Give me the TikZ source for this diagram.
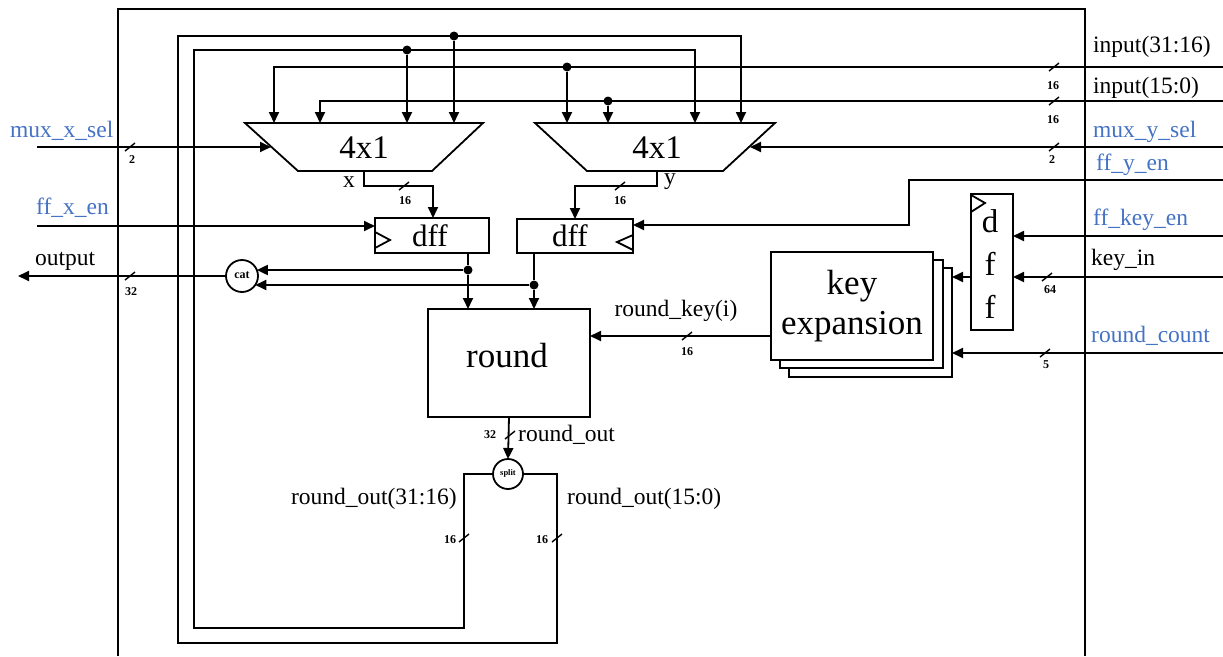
\documentclass[tikz,border=0pt]{standalone}
\usepackage{fontspec}
\setmainfont{Liberation Serif}
\usetikzlibrary{arrows.meta}
\definecolor{sigblue}{HTML}{4472C4}
\tikzset{
 w/.style={line width=1.8pt},
 arr/.style={w,-{Triangle[length=11pt,width=10pt]}},
 dot/.style={circle,fill,inner sep=0pt,minimum size=9pt},
 lbl/.style={font=\fontsize{23.5}{26}\selectfont, inner sep=0pt},
 bl/.style={lbl,text=sigblue},
 big/.style={font=\fontsize{33}{40}\selectfont, inner sep=0pt},
 bw/.style={font=\bfseries\fontsize{12}{13}\selectfont, inner sep=0pt},
 blk/.style={draw,w,inner sep=0pt,outer sep=0pt},
 bus/.pic={\draw[line width=1.4pt] (-5,4) -- (5,-4);},
}
\begin{document}
\begin{tikzpicture}[x=1pt,y=-1pt]
\useasboundingbox (0,0) rectangle (1223,656);
% outer box
\draw[w] (118,656) -- (118,9) -- (1085,9) -- (1085,656);

% multiplexers
\draw[w] (245,123) -- (483,123) -- (432,171) -- (298,171) -- cycle;
\node[big] (mux1) at (364,148) {4x1};
\draw[w] (535,123) -- (775,123) -- (723,171) -- (587,171) -- cycle;
\node[big] (mux2) at (657,148) {4x1};
\coordinate (m1a) at (274,123);
\coordinate (m1b) at (320,123);
\coordinate (m1c) at (407,123);
\coordinate (m1d) at (454,123);
\coordinate (m2a) at (567,123);
\coordinate (m2b) at (608,123);
\coordinate (m2c) at (695,123);
\coordinate (m2d) at (741,123);
\coordinate (m1s) at (271,147);
\coordinate (m2s) at (750,147);
\coordinate (m1o) at (364,171);
\coordinate (m2o) at (657,171);

% flip-flops
\node[blk, minimum width=114pt, minimum height=35pt] (dffx) at (432,235.5) {};
\node[font=\fontsize{31}{36}\selectfont, inner sep=0pt] (dffxt) at (430,236) {dff};
\draw[w] (375,232) -- (390,240) -- (375,248);
\node[blk, minimum width=116pt, minimum height=34pt] (dffy) at (575,236) {};
\node[font=\fontsize{31}{36}\selectfont, inner sep=0pt] (dffyt) at (570,236) {dff};
\draw[w] (633,235) -- (617,242) -- (633,250);

% round
\node[blk, minimum width=162pt, minimum height=108pt] (round) at (509,363) {};
\node[font=\fontsize{35}{40}\selectfont, inner sep=0pt] (roundt) at (507,356) {round};

% key expansion stack
\node[blk, fill=white, minimum width=163pt, minimum height=109pt] (ke3) at (870.5,322.5) {};
\node[blk, fill=white, minimum width=163pt, minimum height=108pt] (ke2) at (861.5,314) {};
\node[blk, fill=white, minimum width=162pt, minimum height=108pt, align=center,
      font=\fontsize{35}{41}\selectfont] (ke) at (852,306) {key\\[-1pt]expansion};

% key dff
\node[blk, minimum width=42pt, minimum height=136pt] (dffk) at (992,262) {};
\node[big] (dk1) at (990,221) {d};
\node[big] (dk2) at (990,264) {f};
\node[big] (dk3) at (990,307) {f};
\draw[w] (971,195) -- (985,203) -- (971,212);

% cat and split
\node[blk, circle, minimum size=32pt, fill=white] (cat) at (242,276) {};
\node[font=\bfseries\fontsize{12}{13}\selectfont, inner sep=0pt] (catt) at (242,275) {cat};
\node[blk, circle, minimum size=30pt, fill=white] (split) at (508,474) {};
\node[font=\bfseries\fontsize{8.5}{9}\selectfont, inner sep=0pt] (splitt) at (508,473) {split};

% input buses
\coordinate (inA) at (1223,67);
\coordinate (inB) at (1223,101);
\draw[arr] (inA) -- (274,67) -- (m1a);
\node[dot] (dA) at (567,67) {};
\draw[arr] (dA) -- (m2a);
\draw[arr] (inB) -- (320,101) -- (m1b);
\node[dot] (dB) at (608,101) {};
\draw[arr] (dB) -- (m2b);
\pic at (1054,67) {bus};
\node[bw] (l16a) at (1053,86) {16};
\pic at (1054,101) {bus};
\node[bw] (l16b) at (1053,120) {16};
\node[lbl, anchor=west] (tinA) at (1093,47) {input(31:16)};
\node[lbl, anchor=west] (tinB) at (1093,88) {input(15:0)};

% feedback loops
\draw[arr] (split.east) -- (557,474) -- (557,643) -- (178,643) -- (178,36) -- (741,36) -- (m2d);
\node[dot] (dC) at (454,36) {};
\draw[arr] (dC) -- (m1d);
\draw[arr] (split.west) -- (464,474) -- (464,628) -- (194,628) -- (194,50) -- (695,50) -- (m2c);
\node[dot] (dD) at (407,50) {};
\draw[arr] (dD) -- (m1c);
\pic at (464,538) {bus};
\node[bw] (l16c) at (450,540) {16};
\pic at (557,538) {bus};
\node[bw] (l16d) at (542,540) {16};
\node[lbl, anchor=east] (tro1) at (457,499) {round\_out(31:16)};
\node[lbl, anchor=west] (tro2) at (567,499) {round\_out(15:0)};

% select lines
\coordinate (xsel) at (37,147);
\coordinate (ysel) at (1223,147);
\draw[arr] (xsel) -- (m1s);
\draw[arr] (ysel) -- (m2s);
\pic at (130,147) {bus};
\node[bw] (l2a) at (132,160) {2};
\pic at (1054,147) {bus};
\node[bw] (l2b) at (1052,160) {2};
\node[bl, anchor=west] (tmx) at (10,131) {mux\_x\_sel};
\node[bl, anchor=west] (tmy) at (1093,132) {mux\_y\_sel};

% mux outputs to dffs
\draw[arr] (m1o) -- (364,186) -- (433,186) -- (433,218);
\pic at (404,186) {bus};
\node[bw] (l16e) at (405,201) {16};
\node[lbl] (tx) at (349,182) {x};
\draw[arr] (m2o) -- (657,186) -- (575,186) -- (575,219);
\pic at (620,186) {bus};
\node[bw] (l16f) at (620,201) {16};
\node[lbl] (ty) at (670,182) {y};

% enables
\coordinate (fxen) at (37,226);
\draw[arr] (fxen) -- (dffx.west |- fxen);
\node[bl, anchor=west] (tfx) at (36,208) {ff\_x\_en};
\coordinate (fyen) at (1223,180);
\draw[arr] (fyen) -- (909,180) -- (909,225) -- (dffy.east |- 0,225);
\node[bl, anchor=west] (tfy) at (1096,165) {ff\_y\_en};

% dff outputs
\node[dot] (d1) at (468,270) {};
\node[dot] (d2) at (534,285) {};
\draw[w] (468,253) -- (d1);
\draw[arr] (d1) -- (468,309);
\draw[w] (534,253) -- (d2);
\draw[arr] (d2) -- (534,309);
\draw[arr] (d1) -- (d1 -| cat.22);
\draw[arr] (d2) -- (d2 -| cat.-34);

% output
\coordinate (outp) at (18,276);
\draw[arr] (cat.west) -- (outp);
\pic at (130,276) {bus};
\node[bw] (l32a) at (131,292) {32};
\node[lbl, anchor=west] (tout) at (35,261) {output};

% round out
\draw[arr] (round.south) -- (split.north);
\pic at (510,435) {bus};
\node[bw] (l32b) at (490,435) {32};
\node[lbl, anchor=west] (trout) at (518,435) {round\_out};

% round key
\draw[arr] (ke.west |- 0,336) -- (round.east |- 0,336);
\pic at (687,336) {bus};
\node[bw] (l16g) at (687,352) {16};
\node[lbl] (trk) at (676,311) {round\_key(i)};

% key inputs
\draw[arr] (dffk.west |- 0,277) -- (ke3.east |- 0,277);
\coordinate (kenp) at (1223,236);
\draw[arr] (kenp) -- (dffk.east |- kenp);
\node[bl, anchor=west] (tken) at (1093,220) {ff\_key\_en};
\coordinate (kinp) at (1223,277);
\draw[arr] (kinp) -- (dffk.east |- kinp);
\pic at (1047,277) {bus};
\node[bw] (l64) at (1050,290) {64};
\node[lbl, anchor=west] (tkin) at (1091,260) {key\_in};
\coordinate (rcnt) at (1223,353);
\draw[arr] (rcnt) -- (ke3.east |- rcnt);
\pic at (1045,353) {bus};
\node[bw] (l5) at (1046,365) {5};
\node[bl, anchor=west] (trc) at (1091,336) {round\_count};
\end{tikzpicture}
\end{document}
